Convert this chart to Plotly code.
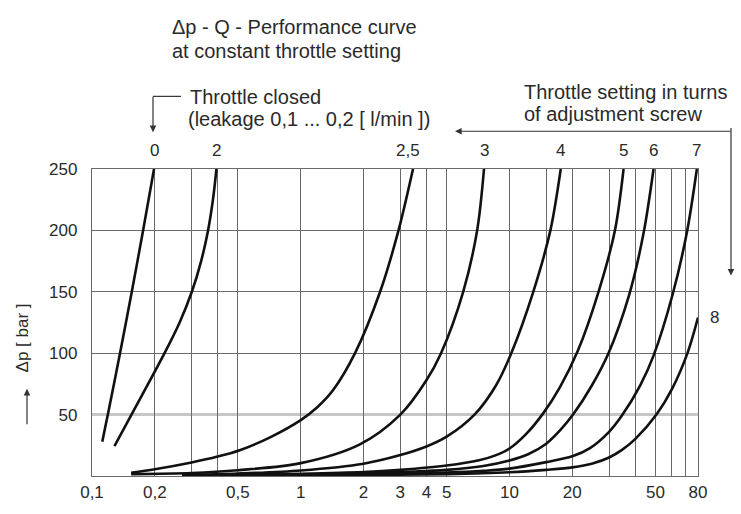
import math
import plotly.graph_objects as go

# ---------------- data ----------------
curve_labels = ["0", "2", "2,5", "3", "4", "5", "6", "7", "8"]

q_s0 = [0.1120, 0.1191, 0.1362, 0.1551, 0.1757, 0.1982]
dp_s0 = [28, 50, 100, 150, 200, 250]

q_s2 = [0.1281, 0.1546, 0.2226, 0.2629, 0.3008, 0.3333, 0.3597, 0.3796, 0.3946]
dp_s2 = [24.4, 50, 100, 125, 150, 175, 200, 225, 250]

q_s25 = [0.154, 0.2, 0.3, 0.4, 0.51, 0.713, 1.0, 1.2, 1.43, 1.82, 2.40, 2.94, 3.45]
dp_s25 = [2.6, 5.5, 11, 15.8, 21, 31.5, 45.5, 56, 70, 100, 150, 200, 250]

q_s3 = [0.154, 0.3, 0.5, 1.0, 1.92, 3.0, 4.0, 4.70, 6.0, 7.0, 7.55]
dp_s3 = [1.5, 2.4, 4.7, 10.5, 25.8, 50, 78, 100, 150, 200, 250]

q_s4 = [0.27, 0.5, 1.0, 2.0, 3.0, 4.0, 5.0, 6.8, 8.6, 10.2, 13.0, 15.7, 17.6]
dp_s4 = [0.8, 2.0, 4.5, 10, 17, 24, 32, 50, 73.5, 100, 150, 200, 250]

q_s5 = [0.27, 0.5, 1.0, 2.0, 3.0, 5.0, 7.15, 8.5, 10, 12, 14.5, 17.4, 21.2, 26.7, 32, 35.2]
dp_s5 = [0.6, 1.0, 1.8, 3.2, 5, 8.5, 12.8, 16.6, 22.4, 34.1, 51, 72, 101.5, 150, 200, 250]

q_s6 = [0.27, 1.0, 2.0, 5.0, 7.5, 10, 12.28, 15, 17.5, 20.2, 24.8, 29.8, 37.5, 43.8, 49]
dp_s6 = [0.5, 1.2, 2.2, 5, 8.1, 12.6, 17.7, 26.3, 37.3, 50.2, 73.7, 100, 148, 197, 250]

q_s7 = [0.27, 1.0, 3.0, 5.0, 7.5, 10, 15, 20, 24.3, 30, 34.5, 42.3, 49, 60.5, 70.7, 79]
dp_s7 = [0.3, 0.8, 2.0, 2.8, 4.2, 6, 11.3, 16, 22.7, 36, 49, 73.8, 98, 148, 198, 250]

q_s8 = [0.27, 1.0, 5.0, 10, 15, 20, 25, 30, 34.6, 40, 50.8, 60, 71.5, 80]
dp_s8 = [0.2, 0.5, 1.5, 3.0, 5, 7, 10.2, 15.1, 21.3, 30, 50.5, 70.7, 100.9, 129]

x_tick_vals = [0.1, 0.2, 0.5, 1, 2, 3, 4, 5, 10, 20, 50, 80]
x_tick_text = ["0,1", "0,2", "0,5", "1", "2", "3", "4", "5", "10", "20", "50", "80"]
x_minor_vals = [0.3, 0.4, 15, 30, 40, 60, 70]
y_tick_vals = [50, 100, 150, 200, 250]
y_tick_text = ["50", "100", "150", "200", "250"]
y_light_grid = 50          # the lighter horizontal grid line

series = [
    (curve_labels[0], q_s0, dp_s0),
    (curve_labels[1], q_s2, dp_s2),
    (curve_labels[2], q_s25, dp_s25),
    (curve_labels[3], q_s3, dp_s3),
    (curve_labels[4], q_s4, dp_s4),
    (curve_labels[5], q_s5, dp_s5),
    (curve_labels[6], q_s6, dp_s6),
    (curve_labels[7], q_s7, dp_s7),
    (curve_labels[8], q_s8, dp_s8),
]

# ---------------- layout geometry ----------------
W, H = 741, 514
L, R, T, B = 92, 698, 169, 486
FONT = "Liberation Sans, Arial, Helvetica, sans-serif"
TXT = "#2a2a2a"
GRID = "#6a6a6a"
FS = 17       # numbers
FS_TXT = 20   # descriptive text


def px(x):
    return (x - L) / (R - L)


def py(y):
    return (B - y) / (B - T)


fig = go.Figure()
for name, q, dp in series:
    fig.add_trace(go.Scatter(
        x=q, y=dp, mode="lines", name=name,
        line=dict(color="#111111", width=2.6, shape="spline", smoothing=0.9),
        showlegend=False, hoverinfo="skip",
    ))

annotations = []
# curve labels at the end of each curve
for name, q, dp in series:
    if dp[-1] >= 250:
        annotations.append(dict(
            x=math.log10(q[-1]), y=dp[-1], xref="x", yref="y",
            text=name, showarrow=False, yanchor="middle", xanchor="center",
            yshift=19, xshift=(-5 if name == "2,5" else 0),
            font=dict(size=FS, color=TXT, family=FONT)))
    else:
        annotations.append(dict(
            x=math.log10(q[-1]), y=dp[-1], xref="x", yref="y",
            text=name, showarrow=False, yanchor="middle", xanchor="left",
            xshift=10, font=dict(size=FS, color=TXT, family=FONT)))

texts = [
    ("Δp - Q - Performance curve", 170, 22),
    ("at constant throttle setting", 170, 47),
    ("Throttle closed", 188, 95),
    ("(leakage 0,1 ... 0,2 [ l/min ])", 186, 117),
    ("Throttle setting in turns", 522, 90),
    ("of adjustment screw", 522, 112),
]
for t, x, y in texts:
    annotations.append(dict(
        x=px(x), y=py(y), xref="paper", yref="paper", text=t,
        showarrow=False, xanchor="left", yanchor="middle",
        font=dict(size=FS_TXT, color=TXT, family=FONT)))

# y-axis title (rotated)
annotations.append(dict(
    x=px(22), y=py(344), xref="paper", yref="paper", text="Δp [ bar ]",
    showarrow=False, textangle=-90, xanchor="center", yanchor="middle",
    font=dict(size=FS, color=TXT, family=FONT)))

# arrows (head position, tail offset in px)
arrows = [
    (153, 131, 0, -37),     # throttle closed, down
    (455, 130, 277, 0),     # turns, pointing left
    (731, 279, 0, -149),    # turns, pointing down
    (27, 396, 0, 37),       # y axis arrow, up
]
for hx, hy, ax, ay in arrows:
    annotations.append(dict(
        x=px(hx), y=py(hy), xref="paper", yref="paper", text="",
        showarrow=True, ax=ax, ay=ay, axref="pixel", ayref="pixel",
        arrowhead=2, arrowsize=1.1, arrowwidth=1.2, arrowcolor="#333333"))

shapes = [
    # bracket segment next to "Throttle closed"
    dict(type="line", xref="paper", yref="paper",
         x0=px(153), y0=py(94), x1=px(181), y1=py(94),
         line=dict(color="#333333", width=1.2)),
    # lighter 50-bar grid line (drawn under the other grid lines)
    dict(type="line", xref="paper", yref="y", x0=0, x1=1,
         y0=y_light_grid, y1=y_light_grid, layer="below",
         line=dict(color="#c6c6c6", width=3)),
]

dark_y_grid = [v for v in y_tick_vals if v != y_light_grid]

fig.update_layout(
    width=W, height=H,
    margin=dict(l=L, r=W - R, t=T, b=H - B, pad=0),
    paper_bgcolor="white", plot_bgcolor="rgba(0,0,0,0)",
    font=dict(family=FONT, size=FS, color=TXT),
    annotations=annotations, shapes=shapes,
    xaxis=dict(
        type="log", range=[math.log10(0.1), math.log10(80)],
        tickmode="array", tickvals=x_tick_vals, ticktext=x_tick_text,
        ticks="", showgrid=True, gridcolor=GRID, gridwidth=1.3,
        minor=dict(tickmode="array", tickvals=x_minor_vals, showgrid=True,
                   gridcolor=GRID, gridwidth=1.3, ticks=""),
        showline=True, mirror=True, linecolor=GRID, linewidth=1.3,
        zeroline=False, tickfont=dict(size=FS, color=TXT, family=FONT),
    ),
    yaxis=dict(
        range=[0, 250], tickmode="array", tickvals=y_tick_vals,
        ticktext=y_tick_text, ticks="", ticklabelstandoff=10,
        showgrid=False,
        minor=dict(tickmode="array", tickvals=dark_y_grid, showgrid=True,
                   gridcolor=GRID, gridwidth=1.3, ticks=""),
        showline=True, mirror=True, linecolor=GRID, linewidth=1.3,
        zeroline=False, tickfont=dict(size=FS, color=TXT, family=FONT),
    ),
)

fig.write_html("out.html")
